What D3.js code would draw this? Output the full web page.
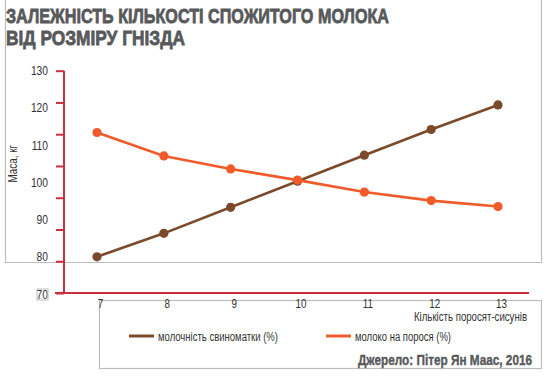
<!DOCTYPE html>
<html>
<head>
<meta charset="utf-8">
<script src="https://cdn.jsdelivr.net/npm/d3@7"></script>
<style>
  html, body { margin: 0; padding: 0; background: #fff; }
  svg { display: block; }
  text { font-family: "Liberation Sans", Arial, sans-serif; }
</style>
</head>
<body>
<div id="chart"></div>
<script>
// data
const litters = [7, 8, 9, 10, 11, 12, 13]
const sowMilk = [80, 86.3, 93.3, 100.3, 107.3, 114.2, 120.8]
const pigletMilk = [113.4, 107.1, 103.6, 100.6, 97.4, 95.1, 93.5]
const yTicks = [70, 80, 90, 100, 110, 120, 130]
const seriesNames = ['молочність свиноматки (%)', 'молоко на порося (%)']
const colors = ['#7b4a2b', '#f15a29']

const width = 548, height = 379
const textColor = '#333'
const titleColor = '#58595b'
const boldFont = '"DejaVu Sans Condensed", "DejaVu Sans", sans-serif'

// the original uses a narrow face, squeeze the text to fit
function narrow (sel, k = 0.82) {
  sel.each(function () {
    const len = this.getComputedTextLength()
    d3.select(this)
      .attr('textLength', len * k)
      .attr('lengthAdjust', 'spacingAndGlyphs')
  })
}

const svg = d3.select('#chart').append('svg')
    .attr('width', width)
    .attr('height', height)

// grey frames from the original layout
const frame = svg.append('g')
    .attr('fill', 'none')
    .attr('stroke', '#bdbdbd')
    .attr('stroke-width', 1.2)
frame.append('path').attr('d', 'M5.5,0V262.5H541.5V0')
frame.append('rect').attr('x', 99.5).attr('y', 300.5).attr('width', 442).attr('height', 68)

// title
const title = svg.append('text')
    .attr('fill', titleColor)
    .attr('stroke', titleColor)
    .attr('stroke-width', 0.8)
    .attr('font-family', boldFont)
    .attr('font-weight', 'bold')
    .attr('font-size', 21)
title.append('tspan').attr('x', 6).attr('y', 22.5)
    .attr('textLength', 383).attr('lengthAdjust', 'spacingAndGlyphs')
    .text('ЗАЛЕЖНІСТЬ КІЛЬКОСТІ СПОЖИТОГО МОЛОКА')
title.append('tspan').attr('x', 6).attr('y', 45)
    .attr('textLength', 179).attr('lengthAdjust', 'spacingAndGlyphs')
    .text('ВІД  РОЗМІРУ ГНІЗДА')

const x = d3.scaleLinear().domain([7, 13]).range([97, 498])
const y = d3.scaleLinear().domain([70, 130]).range([294, 70.7])
// the red tick marks are spaced on their own grid
const yMarks = d3.scaleLinear().domain([0, 7]).range([293, 70.7])

// red axis
const axisColor = '#c9303e'
svg.append('g')
    .attr('transform', 'translate(64,0)')
    .call(d3.axisLeft(yMarks).tickValues(d3.range(8)).tickSize(8).tickFormat(''))
    .call(g => g.select('.domain').remove())
    .call(g => g.selectAll('line').attr('stroke', axisColor).attr('stroke-width', 2))
svg.append('line')
    .attr('x1', 64).attr('x2', 64)
    .attr('y1', yMarks(7)).attr('y2', yMarks(0))
    .attr('stroke', axisColor).attr('stroke-width', 2)
svg.append('line')
    .attr('x1', 55).attr('x2', 529)
    .attr('y1', yMarks(0)).attr('y2', yMarks(0))
    .attr('stroke', axisColor).attr('stroke-width', 2)

// y labels
const yAxis = svg.append('g')
    .attr('transform', 'translate(48,0)')
    .call(d3.axisLeft(y).tickValues(yTicks).tickSize(0).tickPadding(0))
    .call(g => g.select('.domain').remove())
yAxis.selectAll('text')
    .attr('font-family', '"Liberation Sans", Arial, sans-serif')
    .attr('font-size', 12.5)
    .attr('fill', textColor)
    .call(narrow)
yAxis.selectAll('.tick')
    .filter(d => d === 70)
    .append('rect')
      .attr('x', -11).attr('y', -5.5).attr('width', 11).attr('height', 11)
      .attr('fill', 'none').attr('stroke', '#bdbdbd').attr('stroke-width', 1)

svg.append('text')
    .attr('transform', `translate(17,${(y(100) + y(110)) / 2}) rotate(-90)`)
    .attr('text-anchor', 'middle')
    .attr('font-size', 12)
    .attr('fill', textColor)
    .text('Маса, кг')
    .call(narrow)

// x labels
const xAxis = svg.append('g')
    .attr('transform', 'translate(3,299.5)')
    .call(d3.axisBottom(x).tickValues(litters).tickSize(0).tickPadding(0).tickFormat(d3.format('d')))
    .call(g => g.select('.domain').remove())
xAxis.selectAll('text')
    .attr('font-family', '"Liberation Sans", Arial, sans-serif')
    .attr('font-size', 12)
    .attr('fill', textColor)
    .call(narrow)

svg.append('text')
    .attr('x', 527).attr('y', 321)
    .attr('text-anchor', 'end')
    .attr('font-size', 12)
    .attr('fill', textColor)
    .attr('textLength', 113).attr('lengthAdjust', 'spacingAndGlyphs')
    .text('Кількість поросят-сисунів')

// series
const series = [sowMilk, pigletMilk]
const line = d3.line().x((d, i) => x(litters[i])).y(d => y(d))
series.forEach((s, k) => {
  const g = svg.append('g')
  g.append('path')
      .datum(s)
      .attr('fill', 'none')
      .attr('stroke', colors[k])
      .attr('stroke-width', 2.6)
      .attr('d', line)
  g.selectAll('circle')
      .data(s)
      .join('circle')
        .attr('cx', (d, i) => x(litters[i]))
        .attr('cy', d => y(d))
        .attr('r', 4.6)
        .attr('fill', colors[k])
})

// legend
const legendX = [129, 326]
const legendLen = [120, 96]
const legend = svg.append('g')
    .selectAll('g')
    .data(seriesNames)
    .join('g')
      .attr('transform', (d, i) => `translate(${legendX[i]},336)`)
legend.append('line')
    .attr('x1', 0).attr('x2', 25)
    .attr('stroke', (d, i) => colors[i])
    .attr('stroke-width', 3)
legend.append('text')
    .attr('x', 29).attr('y', 4.5)
    .attr('font-size', 12.5)
    .attr('fill', textColor)
    .attr('textLength', (d, i) => legendLen[i]).attr('lengthAdjust', 'spacingAndGlyphs')
    .text(d => d)

// source
svg.append('text')
    .attr('x', 532).attr('y', 365)
    .attr('text-anchor', 'end')
    .attr('font-family', boldFont)
    .attr('font-weight', 'bold')
    .attr('font-size', 15)
    .attr('fill', titleColor)
    .attr('stroke', titleColor)
    .attr('stroke-width', 0.4)
    .attr('textLength', 174).attr('lengthAdjust', 'spacingAndGlyphs')
    .text('Джерело: Пітер Ян Маас, 2016')
</script>
</body>
</html>
